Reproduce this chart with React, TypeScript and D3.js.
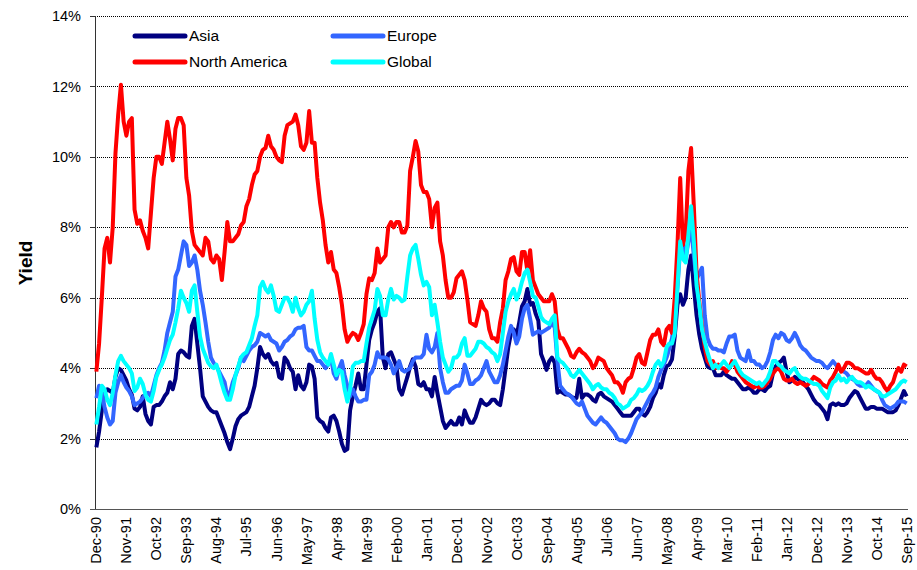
import React from 'react';
import * as d3 from 'd3';

// Monthly categories Dec-90 .. Sep-15 (298 months)
const startMonth = new Date(1990, 11, 1);
const endMonthExclusive = new Date(2015, 9, 1);
const categories: string[] = d3.timeMonth
  .range(startMonth, endMonthExclusive)
  .map((d) => d3.timeFormat('%b-%y')(d));

const tickLabels = [
  'Dec-90', 'Nov-91', 'Oct-92', 'Sep-93', 'Aug-94', 'Jul-95', 'Jun-96', 'May-97', 'Apr-98', 'Mar-99',
  'Feb-00', 'Jan-01', 'Dec-01', 'Nov-02', 'Oct-03', 'Sep-04', 'Aug-05', 'Jul-06', 'Jun-07', 'May-08',
  'Apr-09', 'Mar-10', 'Feb-11', 'Jan-12', 'Dec-12', 'Nov-13', 'Oct-14', 'Sep-15',
];

const yTicks = [0, 2, 4, 6, 8, 10, 12, 14];

const asia = [
  1.75, 2.2, 2.8, 3.3, 3.4, 3.35, 3.3, 3.75, 4.0, 3.95,
  3.8, 3.65, 3.4, 3.25, 2.85, 2.8, 2.9, 3.2, 2.7, 2.5,
  2.4, 2.9, 2.95, 2.95, 3.05, 3.2, 3.3, 3.6, 3.4, 3.7,
  4.4, 4.5, 4.45, 4.35, 4.3, 5.2, 5.4, 4.7, 4.0, 3.2,
  3.05, 2.9, 2.8, 2.75, 2.75, 2.55, 2.35, 2.15, 1.9, 1.7,
  2.0, 2.35, 2.55, 2.65, 2.7, 2.75, 2.9, 3.2, 3.5, 4.0,
  4.6, 4.4, 4.3, 4.4, 4.2, 4.1, 4.15, 3.75, 3.7, 4.3,
  4.2, 4.0, 3.9, 3.4, 3.8, 3.5, 3.4, 3.6, 4.1, 4.05,
  3.7, 2.6, 2.5, 2.45, 2.3, 2.2, 2.6, 2.65, 2.5, 2.2,
  1.85, 1.65, 1.7, 2.8, 3.2, 3.5, 3.85, 3.4, 3.4, 4.1,
  4.8, 5.1, 5.3, 5.6, 5.7, 4.3, 4.0, 4.4, 4.45, 4.25,
  4.05, 3.4, 3.25, 3.5, 3.75, 4.05, 4.25, 4.05, 3.55, 3.5,
  3.6, 3.4, 3.4, 3.2, 3.75, 3.3, 2.9, 2.5, 2.3, 2.4,
  2.5, 2.4, 2.4, 2.6, 2.4, 2.8, 2.6, 2.45, 2.45, 2.6,
  2.85, 3.1, 3.0, 2.95, 3.0, 3.1, 3.1, 3.0, 2.95, 3.4,
  4.0, 4.6, 5.0, 5.1, 4.9, 5.3, 5.75, 5.9, 6.25, 5.8,
  5.85, 5.55, 5.35, 4.4, 4.2, 3.95, 4.2, 4.3, 4.15, 3.3,
  3.35, 3.3, 3.25, 3.25, 3.2, 3.15, 3.15, 3.7, 3.15, 3.25,
  3.25, 3.2, 3.1, 3.05, 3.25, 3.3, 3.2, 3.15, 3.1, 3.05,
  2.95, 2.85, 2.75, 2.65, 2.65, 2.65, 2.65, 2.75, 2.85, 2.85,
  2.7, 2.65, 2.75, 2.9, 3.15, 3.3, 3.55, 3.45, 3.8, 4.05,
  4.1, 4.25, 4.9, 5.8, 6.1, 5.8, 6.0, 6.8, 7.2, 6.3,
  5.5, 4.95, 4.55, 4.3, 4.05, 4.0, 4.0, 3.8, 3.8, 3.8,
  3.9, 3.8, 3.75, 3.7, 3.7, 3.6, 3.5, 3.4, 3.4, 3.45,
  3.4, 3.3, 3.3, 3.4, 3.4, 3.35, 3.45, 3.5, 3.85, 4.05,
  4.15, 4.2, 4.3, 3.9, 3.6, 3.65, 3.75, 3.7, 3.65, 3.6,
  3.5, 3.4, 3.25, 3.1, 3.0, 2.95, 2.85, 2.75, 2.55, 2.95,
  3.0, 2.95, 3.0, 2.95, 2.95, 3.0, 3.15, 3.25, 3.35, 3.3,
  3.15, 3.0, 2.85, 2.85, 2.9, 2.9, 2.85, 2.85, 2.85, 2.8,
  2.75, 2.75, 2.75, 2.8, 2.95, 3.15, 3.35, 3.2,
];

const europe = [
  3.15, 3.5, 3.3, 2.9, 2.6, 2.4, 2.5, 3.3, 3.6, 3.8,
  3.6, 3.45, 3.35, 3.2, 2.95, 3.0, 3.05, 3.15, 3.25, 3.3,
  3.2, 3.5, 3.8, 4.0, 4.15, 4.5, 5.0, 5.3, 5.6, 6.6,
  6.8, 7.2, 7.6, 7.5, 6.9, 7.0, 7.2, 6.8, 6.2, 5.8,
  5.3, 4.75, 4.3, 4.15, 4.05, 3.9, 3.75, 3.6, 3.2, 3.3,
  3.6, 3.8, 4.0, 4.3, 4.2, 4.35, 4.5, 4.6, 4.65, 4.75,
  5.0, 4.95, 4.9, 4.95, 4.8, 4.75, 4.7, 4.5, 4.6, 4.75,
  4.8, 4.9, 4.95, 5.1, 5.15, 5.15, 5.2, 4.6, 4.5, 4.5,
  4.35, 4.2, 4.2, 4.1, 4.0, 4.1, 4.3, 3.85, 3.7, 4.0,
  4.2, 3.8, 3.5, 3.2, 3.4, 3.2, 3.05, 3.05, 3.1, 3.1,
  3.8, 3.9, 4.1, 4.45, 4.3, 4.3, 4.3, 4.25, 4.1, 3.85,
  4.0, 4.2, 3.95, 3.9, 3.95, 4.0, 4.2, 4.3, 4.3, 4.3,
  4.4, 4.95, 4.55, 4.45, 4.6, 5.0, 4.0, 3.6, 3.3, 3.3,
  3.4, 3.45, 3.5, 3.5, 3.65, 4.1, 3.85, 3.55, 3.55, 3.65,
  3.7, 3.8, 4.0, 4.2, 3.9, 3.75, 3.6, 3.6, 3.8, 4.1,
  4.5, 4.9, 5.2, 5.0, 4.7, 4.9, 5.4, 5.7, 5.8, 5.4,
  4.95, 5.0, 5.05, 5.0, 5.05, 5.1, 5.15, 5.3, 5.15, 4.2,
  3.5, 3.4, 3.3, 3.25, 3.2, 3.1, 3.0, 2.95, 3.05, 2.85,
  2.65, 2.55, 2.45, 2.4, 2.5, 2.6, 2.5, 2.45, 2.35, 2.25,
  2.15, 2.0, 1.95, 1.95, 1.9, 2.0, 2.15, 2.35, 2.55, 2.65,
  2.75, 2.9, 3.05, 3.2, 3.3, 3.45, 3.75, 3.95, 4.1, 4.3,
  4.55, 4.85, 5.4, 6.3, 7.4, 7.6, 7.1, 7.6, 8.0, 7.2,
  6.5, 6.7, 6.85, 5.5, 4.85, 4.65, 4.55, 4.55, 4.5, 4.5,
  4.45, 4.7, 4.9, 4.9, 4.95, 4.5, 4.3, 4.25, 4.2, 4.5,
  4.2, 4.2, 4.1, 4.1, 4.0, 4.05, 4.2, 4.45, 4.8, 4.95,
  4.85, 5.0, 4.95, 4.8, 4.75, 4.85, 5.0, 4.85, 4.65, 4.55,
  4.5, 4.4, 4.3, 4.25, 4.2, 4.2, 4.15, 4.05, 4.0, 4.1,
  4.2, 4.1, 4.0, 3.95, 3.9, 3.85, 3.75, 3.7, 3.65, 3.55,
  3.5, 3.5, 3.5, 3.6, 3.5, 3.4, 3.35, 3.3, 3.1, 2.95,
  2.9, 2.85, 2.9, 2.95, 3.05, 3.05, 3.05, 3.0,
];

const northAmerica = [
  3.9, 4.7, 6.0, 7.4, 7.7, 7.0, 8.0, 10.1, 11.2, 12.05,
  11.0, 10.6, 11.0, 11.1, 8.5, 8.1, 8.2, 7.9, 7.7, 7.4,
  8.4, 9.4, 10.0, 10.0, 9.8, 10.4, 11.0, 10.5, 9.9, 10.8,
  11.1, 11.1, 10.9, 9.4, 8.9, 7.9, 7.5, 7.4, 7.3, 7.2,
  7.7, 7.6, 7.1, 7.0, 7.2, 7.1, 6.5, 7.3, 8.15, 7.6,
  7.6, 7.7, 7.8, 8.05, 8.15, 8.6, 8.8, 9.2, 9.5, 9.6,
  10.0, 10.2, 10.25, 10.6, 10.3, 10.2, 10.0, 9.9, 9.85, 10.6,
  10.9, 10.95, 11.0, 11.2, 10.9, 10.3, 10.2, 10.4, 11.3, 10.4,
  10.4, 9.4, 8.7, 8.2, 7.5, 7.0, 7.3, 6.8, 6.7, 6.3,
  5.8, 5.1, 4.75, 4.9, 5.0, 4.95, 4.8, 5.0, 5.25, 6.1,
  6.55, 6.5, 6.7, 7.4, 7.0, 7.1, 7.2, 8.0, 8.15, 8.0,
  8.15, 8.15, 7.85, 7.85, 8.05, 9.6, 10.0, 10.45, 10.15, 9.2,
  9.0, 9.0, 8.8, 8.0, 8.55, 8.7, 7.6, 7.2, 6.5, 6.0,
  6.0, 6.15, 6.55, 6.65, 6.75, 6.5, 5.95, 5.3, 5.25, 5.2,
  5.5, 5.9, 5.7, 5.6, 5.1, 4.85, 4.85, 4.75, 5.3, 5.7,
  6.5, 6.75, 7.1, 7.15, 6.75, 6.65, 7.3, 7.3, 6.75, 7.35,
  6.5, 6.3, 6.1, 6.0, 5.9, 5.9, 5.9, 6.1, 5.9, 5.1,
  4.85, 4.85, 4.7, 4.55, 4.35, 4.3, 4.45, 4.55, 4.45, 4.4,
  4.3, 4.2, 4.0, 4.1, 4.3, 4.25, 4.2, 4.0, 3.9, 3.8,
  3.6, 3.6, 3.5, 3.3, 3.6, 3.7, 3.75, 4.0, 4.3, 4.4,
  4.15, 4.1, 4.45, 4.8, 4.95, 4.95, 5.1, 4.75, 4.65, 5.1,
  5.2, 5.0, 6.0, 7.5, 9.4, 7.5, 7.8, 9.6, 10.25, 8.6,
  6.7, 5.9, 5.2, 4.6, 4.2, 4.1, 4.2, 4.0, 4.1, 4.0,
  4.0, 3.9, 4.0, 4.2, 4.1, 3.9, 3.8, 3.7, 3.6, 3.55,
  3.5, 3.45, 3.5, 3.45, 3.45, 3.5, 3.6, 3.7, 3.85, 3.95,
  4.0, 3.9, 3.7, 3.65, 3.65, 3.7, 3.6, 3.55, 3.6, 3.55,
  3.5, 3.55, 3.65, 3.75, 3.7, 3.65, 3.55, 3.5, 3.45, 3.65,
  3.75, 3.9, 4.1, 3.9, 4.0, 4.15, 4.15, 4.1, 4.0, 4.0,
  3.95, 3.9, 3.85, 3.85, 3.95, 3.8, 3.7, 3.7, 3.6, 3.45,
  3.35, 3.5, 3.6, 3.85, 4.0, 3.9, 4.1, 4.05,
];

const globalYield = [
  2.4, 2.9, 3.5, 3.4, 3.1, 2.95, 3.3, 3.8, 4.2, 4.35,
  4.2, 4.1, 4.0, 3.85, 3.35, 3.45, 3.7, 3.55, 3.25, 3.1,
  3.05, 3.35, 3.75, 3.95, 4.1, 4.3, 4.55, 4.8, 4.95, 5.3,
  5.7, 6.2, 6.0, 5.85, 5.6, 6.2, 6.35, 5.6, 4.9, 4.55,
  4.35, 4.15, 4.05, 4.0, 4.1, 3.85, 3.55, 3.3, 3.1, 3.1,
  3.4, 3.8, 4.05, 4.3, 4.4, 4.45, 4.65, 4.85, 5.2, 5.5,
  6.3, 6.45, 6.25, 6.15, 6.35, 6.05, 5.65, 5.6, 5.8, 6.0,
  6.0, 5.85, 5.6, 6.0, 5.7, 5.5, 5.6, 5.8, 5.9, 6.2,
  5.4, 4.8, 4.45, 4.3, 4.2, 4.1, 4.4, 4.1, 3.8, 3.95,
  3.9, 3.4, 3.05, 3.4, 4.05, 4.15, 4.15, 4.2, 4.2, 4.7,
  5.15, 5.4, 5.65, 6.25, 6.05, 5.5, 5.5, 5.95, 6.25, 5.95,
  6.05, 6.0, 5.9, 5.95, 6.6, 7.2, 7.4, 7.5, 7.1, 6.65,
  6.35, 6.45, 6.3, 5.5, 5.8, 5.3, 4.75, 4.3, 4.1, 3.9,
  4.0, 4.3, 4.3, 4.4, 4.7, 4.85, 4.35, 4.35, 4.45, 4.55,
  4.75, 4.75, 4.7, 4.6, 4.55, 4.45, 4.4, 4.2, 4.4, 5.0,
  5.6, 5.9, 6.1, 6.25, 5.95, 6.15, 6.45, 6.7, 6.8, 6.45,
  6.05, 6.0, 5.75, 5.45, 5.35, 5.3, 5.25, 5.4, 5.5, 4.3,
  4.2, 4.15, 4.05, 3.95, 3.8, 3.75, 3.85, 3.95, 3.85, 3.75,
  3.65, 3.55, 3.4, 3.5, 3.55, 3.45, 3.4, 3.4, 3.3, 3.25,
  3.15, 3.0, 2.95, 2.85, 2.9, 2.95, 3.1, 3.15, 3.25, 3.4,
  3.35, 3.4, 3.5, 3.65, 3.9, 4.1, 4.2, 4.05, 4.2, 4.6,
  4.7, 4.7, 5.0, 6.3, 7.6, 7.1, 7.0, 7.8, 8.6, 7.6,
  6.35, 5.8, 5.1, 4.75, 4.45, 4.2, 4.0, 4.1, 4.0, 4.1,
  4.2, 4.1, 4.0, 4.1, 4.2, 4.05, 3.9, 3.8, 3.75, 3.7,
  3.65, 3.6, 3.55, 3.6, 3.5, 3.6, 3.7, 3.9, 4.2, 4.2,
  4.1, 4.05, 3.95, 3.9, 3.85, 3.95, 4.0, 3.85, 3.75, 3.7,
  3.7, 3.65, 3.6, 3.55, 3.55, 3.5, 3.35, 3.25, 3.15, 3.45,
  3.6, 3.65, 3.8, 3.65, 3.7, 3.6, 3.7, 3.75, 3.65, 3.6,
  3.6, 3.55, 3.45, 3.5, 3.45, 3.4, 3.35, 3.3, 3.2, 3.2,
  3.25, 3.3, 3.35, 3.4, 3.5, 3.6, 3.65, 3.6,
];

const seriesNames = ['Asia', 'Europe', 'North America', 'Global'];
const seriesColors = ['#000080', '#3366FF', '#FF0000', '#00FFFF'];
const seriesData = [asia, europe, northAmerica, globalYield];

const FONT = '"Liberation Sans", Arial, Helvetica, sans-serif';

export default function App() {
  const width = 917;
  const height = 570;
  const plotLeft = 95;
  const plotRight = 908;
  const plotTop = 16;
  const plotBottom = 509;

  const x = d3
    .scaleLinear()
    .domain([-0.5, categories.length - 0.5])
    .range([plotLeft, plotRight]);
  const y = d3.scaleLinear().domain([0, 14]).range([plotBottom, plotTop]);

  const line = d3
    .line<number>()
    .x((_, i) => x(i))
    .y((d) => y(d));

  const legendItems = seriesNames.map((name, i) => ({
    name,
    color: seriesColors[i],
    lx: i % 2 === 0 ? 135 : 333,
    ly: i < 2 ? 36 : 62,
  }));

  return (
    <svg
      width={width}
      height={height}
      style={{ position: 'absolute', left: 0, top: 0, background: '#fff' }}
      fontFamily={FONT}
    >
      <rect x={0} y={0} width={width} height={height} fill="#fff" />
      {/* gridlines */}
      {yTicks
        .filter((t) => t > 0)
        .map((t) => (
          <line
            key={'g' + t}
            x1={plotLeft}
            x2={plotRight}
            y1={Math.round(y(t)) + 0.5}
            y2={Math.round(y(t)) + 0.5}
            stroke="#000"
            strokeWidth={1}
            strokeDasharray="1 1"
          />
        ))}
      {/* y ticks & labels */}
      {yTicks.map((t) => (
        <g key={'yt' + t}>
          <line
            x1={plotLeft - 5}
            x2={plotLeft}
            y1={Math.round(y(t)) + 0.5}
            y2={Math.round(y(t)) + 0.5}
            stroke="#333"
          />
          <text
            x={81}
            y={y(t)}
            dy="0.35em"
            textAnchor="end"
            fontSize={14.5}
            fill="#000"
          >
            {t + '%'}
          </text>
        </g>
      ))}
      {/* axes */}
      <line x1={plotLeft + 0.5} x2={plotLeft + 0.5} y1={plotTop} y2={plotBottom} stroke="#333" />
      <line
        x1={plotLeft - 5}
        x2={plotRight}
        y1={Math.round(y(0)) + 0.5}
        y2={Math.round(y(0)) + 0.5}
        stroke="#555"
      />
      {/* x labels */}
      {tickLabels.map((lab) => {
        const idx = categories.indexOf(lab);
        const px = x(idx);
        return (
          <text
            key={'xl' + lab}
            transform={`translate(${px},517) rotate(-90)`}
            textAnchor="end"
            dy="0.35em"
            fontSize={14.5}
            fill="#000"
          >
            {lab}
          </text>
        );
      })}
      {/* y title */}
      <text
        transform="translate(25,263) rotate(-90)"
        textAnchor="middle"
        dy="0.35em"
        fontSize={19}
        fontWeight="bold"
        fill="#000"
      >
        Yield
      </text>
      {/* series */}
      {seriesData.map((data, i) => (
        <path
          key={'s' + i}
          d={line(data) || ''}
          fill="none"
          stroke={seriesColors[i]}
          strokeWidth={4}
          strokeLinejoin="round"
        />
      ))}
      {/* legend */}
      {legendItems.map((it) => (
        <g key={'lg' + it.name}>
          <line
            x1={it.lx}
            x2={it.lx + 50}
            y1={it.ly}
            y2={it.ly}
            stroke={it.color}
            strokeWidth={5}
            strokeLinecap="round"
          />
          <text x={it.lx + 54} y={it.ly} dy="0.35em" fontSize={15.5} fill="#000">
            {it.name}
          </text>
        </g>
      ))}
    </svg>
  );
}
